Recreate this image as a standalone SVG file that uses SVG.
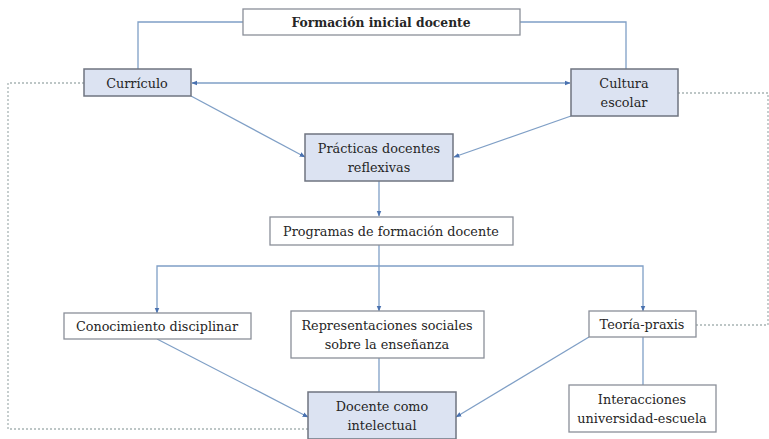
<svg xmlns="http://www.w3.org/2000/svg" width="769" height="439" viewBox="0 0 769 439">
<style>
.box{fill:#ffffff;stroke:#8a8f99;stroke-width:1.3}
.blue{fill:#dce3f2;stroke:#6f7480;stroke-width:1.5}
.t{font-family:'DejaVu Serif',serif;font-size:12.8px;fill:#262626;text-anchor:middle}
.b{font-weight:bold;font-size:12.3px}
.c{fill:none;stroke:#7f9fc6;stroke-width:1.3}
.d{fill:none;stroke:#a8b4b4;stroke-width:1.3;stroke-dasharray:2 2}
</style>
<defs>
<marker id="ah" viewBox="0 0 10 10" refX="9" refY="5" markerWidth="6" markerHeight="6" orient="auto-start-reverse" markerUnits="userSpaceOnUse">
<path d="M0,1 L10,5 L0,9 z" fill="#4a72b0"/>
</marker>
</defs>
<g id="connectors">
<polyline class="c" points="243,22 138,22 138,69"/>
<polyline class="c" points="520,22 626,22 626,69"/>
<line class="c" x1="192" y1="83" x2="570" y2="83" marker-start="url(#ah)" marker-end="url(#ah)"/>
<line class="c" x1="191" y1="96" x2="305" y2="157" marker-end="url(#ah)"/>
<line class="c" x1="571" y1="116" x2="454" y2="157" marker-end="url(#ah)"/>
<line class="c" x1="379" y1="181" x2="379" y2="216" marker-end="url(#ah)"/>
<line class="c" x1="379" y1="245" x2="379" y2="311" marker-end="url(#ah)"/>
<polyline class="c" points="157,313 157,266 643,266 643,311" marker-start="url(#ah)" marker-end="url(#ah)"/>
<line class="c" x1="157" y1="339" x2="308" y2="417" marker-end="url(#ah)"/>
<line class="c" x1="589" y1="337" x2="456" y2="417" marker-end="url(#ah)"/>
<line class="c" x1="379" y1="358" x2="379" y2="392"/>
<line class="c" x1="643" y1="337" x2="643" y2="385"/>
<polyline class="d" points="84,83 8,83 8,429 308,429"/>
<polyline class="d" points="678,93 768,93 768,325 696,325"/>
</g>
<g id="formacion">
<rect class="box" x="243" y="9" width="277" height="26"/>
<text class="t b" x="381" y="27">Formación inicial docente</text>
</g>
<g id="curriculo">
<rect class="blue" x="84" y="69" width="107" height="27"/>
<text class="t" x="137" y="87.5">Currículo</text>
</g>
<g id="cultura">
<rect class="blue" x="571" y="69" width="107" height="47"/>
<text class="t" x="624" y="88">Cultura</text>
<text class="t" x="624" y="107">escolar</text>
</g>
<g id="practicas">
<rect class="blue" x="305" y="134" width="148" height="47"/>
<text class="t" x="379" y="153">Prácticas docentes</text>
<text class="t" x="379" y="172">reflexivas</text>
</g>
<g id="programas">
<rect class="box" x="270" y="217" width="243" height="28"/>
<text class="t" x="391" y="236">Programas de formación docente</text>
</g>
<g id="conocimiento">
<rect class="box" x="64" y="313" width="187" height="26"/>
<text class="t" x="157" y="331">Conocimiento disciplinar</text>
</g>
<g id="representaciones">
<rect class="box" x="291" y="311" width="193" height="47"/>
<text class="t" x="387" y="330">Representaciones sociales</text>
<text class="t" x="387" y="349">sobre la enseñanza</text>
</g>
<g id="teoria">
<rect class="box" x="589" y="311" width="107" height="26"/>
<text class="t" x="642" y="329">Teoría-praxis</text>
</g>
<g id="interacciones">
<rect class="box" x="569" y="385" width="147" height="47"/>
<text class="t" x="642" y="404">Interacciones</text>
<text class="t" x="642" y="423">universidad-escuela</text>
</g>
<g id="docente">
<rect class="blue" x="308" y="392" width="148" height="47"/>
<text class="t" x="382" y="411">Docente como</text>
<text class="t" x="382" y="430">intelectual</text>
</g>
</svg>
